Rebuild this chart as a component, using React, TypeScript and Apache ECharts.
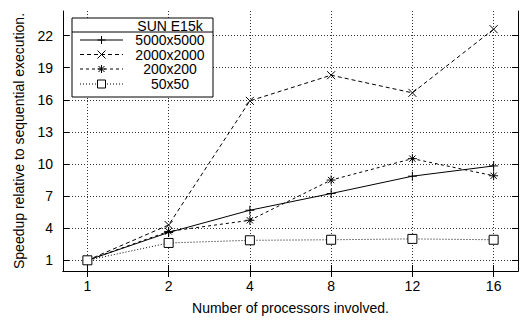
import React, { useEffect, useRef } from "react";
import * as echarts from "echarts";

const categories = ["1", "2", "4", "8", "12", "16"];
const s5000 = [1, 3.6, 5.68, 7.24, 8.86, 9.82];
const s2000 = [1, 4.3, 15.9, 18.3, 16.65, 22.6];
const s200 = [1, 3.7, 4.74, 8.5, 10.5, 8.9];
const s50 = [1, 2.62, 2.87, 2.92, 3.0, 2.92];
const yTicks = [1, 4, 7, 10, 13, 16, 19, 22];
const seriesNames = ["5000x5000", "2000x2000", "200x200", "50x50"];
const legendTitle = "SUN E15k";

const FONT = "'Liberation Sans', Arial, Helvetica, sans-serif";
const xTicks = categories.map((_, i) => i + 1);

const PLUS = "path://M0,5L10,5M5,0L5,10";
const CROSS = "path://M0,0L10,10M10,0L0,10";
const STAR = "path://M0,5L10,5M5,0L5,10M1.5,1.5L8.5,8.5M8.5,1.5L1.5,8.5";
const SQUARE = "path://M0,0L10,0L10,10L0,10Z";

export default function App() {
  const ref = useRef<HTMLDivElement>(null);
  useEffect(() => {
    if (!ref.current) return;
    const chart = echarts.init(ref.current, null, { renderer: "svg" });
    const toData = (arr: number[]) => arr.map((v, i) => [i + 1, v]);
    const gridLine = { show: true, lineStyle: { color: "#333", type: [1, 2] as any, width: 1 } };
    const baseX = {
      type: "value" as const,
      min: 0.7,
      max: 6.3,
      axisLine: { show: true, lineStyle: { color: "#000", width: 1 } },
    };
    const baseY = {
      type: "value" as const,
      min: 0,
      max: 24.3,
      axisLine: { show: true, lineStyle: { color: "#000", width: 1 } },
    };
    const lx1 = 80, lx2 = 123, lmx = 101.5, ltx = 170;
    const rowsY = [40, 54.5, 69, 84];
    const Z = 100;
    const stroke = { stroke: "#000", lineWidth: 1 };
    const ln = (x1: number, y1: number, x2: number, y2: number, extra: any = {}) => ({
      type: "line",
      z: Z + 2,
      shape: { x1, y1, x2, y2 },
      style: { ...stroke, ...extra },
    });
    const markerEls = (kind: number, cx: number, cy: number): any[] => {
      const r = 4;
      if (kind === 0) return [ln(cx - r, cy, cx + r, cy), ln(cx, cy - r, cx, cy + r)];
      if (kind === 1) return [ln(cx - r, cy - r, cx + r, cy + r), ln(cx + r, cy - r, cx - r, cy + r)];
      if (kind === 2)
        return [
          ln(cx - r, cy, cx + r, cy),
          ln(cx, cy - r, cx, cy + r),
          ln(cx - 3, cy - 3, cx + 3, cy + 3),
          ln(cx + 3, cy - 3, cx - 3, cy + 3),
        ];
      return [
        { type: "rect", z: Z + 3, shape: { x: cx - 4, y: cy - 4, width: 8, height: 8 }, style: { ...stroke, fill: "#fff" } },
      ];
    };
    const dashes: any[] = [null, [4, 3], [3, 3], [1, 2]];
    const legendEls: any[] = [
      { type: "rect", z: Z, shape: { x: 72, y: 18, width: 141, height: 79 }, style: { fill: "#fff", stroke: "#000", lineWidth: 1 } },
      ln(72, 32, 213, 32),
      {
        type: "text",
        z: Z + 2,
        style: { text: legendTitle, x: ltx, y: 25.5, align: "center", verticalAlign: "middle", fill: "#000", fontSize: 14, fontFamily: FONT },
      },
    ];
    seriesNames.forEach((n, i) => {
      const y = rowsY[i];
      legendEls.push(ln(lx1, y, lx2, y, dashes[i] ? { lineDash: dashes[i] } : {}));
      legendEls.push(...markerEls(i, lmx, y));
      legendEls.push({
        type: "text",
        z: Z + 2,
        style: { text: n, x: ltx, y, align: "center", verticalAlign: "middle", fill: "#000", fontSize: 14, fontFamily: FONT },
      });
    });

    const mkSeries = (name: string, arr: number[], symbol: string, dash: any, size: number, fill = "#000") => ({
      name,
      type: "line" as const,
      data: toData(arr),
      symbol,
      symbolSize: size,
      showSymbol: true,
      lineStyle: { color: "#000", width: 1, type: dash },
      itemStyle: { color: fill, borderColor: "#000", borderWidth: 1 },
      z: 3,
    });

    chart.setOption({
      animation: false,
      backgroundColor: "#fff",
      textStyle: { fontFamily: FONT },
      grid: { left: 63, right: 3, top: 11, bottom: 49, show: false },
      xAxis: [
        {
          ...baseX,
          position: "bottom",
          name: "Number of processors involved.",
          nameLocation: "middle",
          nameGap: 30,
          nameTextStyle: { color: "#000", fontSize: 14, fontFamily: FONT },
          axisTick: { show: true, inside: true, length: 6, customValues: xTicks, lineStyle: { color: "#000" } },
          axisLabel: {
            customValues: xTicks,
            formatter: (v: number) => categories[Math.round(v) - 1] ?? "",
            color: "#000",
            fontSize: 14,
            margin: 8,
            fontFamily: FONT,
          },
          splitLine: gridLine,
        },
        {
          ...baseX,
          position: "top",
          axisTick: { show: true, inside: true, length: 6, customValues: xTicks, lineStyle: { color: "#000" } },
          axisLabel: { show: false },
          splitLine: { show: false },
        },
      ],
      yAxis: [
        {
          ...baseY,
          position: "left",
          name: "Speedup relative to sequential execution.",
          nameLocation: "middle",
          nameGap: 37,
          nameTextStyle: { color: "#000", fontSize: 14, fontFamily: FONT },
          axisTick: { show: true, inside: true, length: 6, customValues: yTicks, lineStyle: { color: "#000" } },
          axisLabel: { customValues: yTicks, color: "#000", fontSize: 14, margin: 10, fontFamily: FONT },
          splitLine: gridLine,
        },
        {
          ...baseY,
          position: "right",
          axisTick: { show: true, inside: true, length: 6, customValues: yTicks, lineStyle: { color: "#000" } },
          axisLabel: { show: false },
          splitLine: { show: false },
        },
      ],
      series: [
        mkSeries(seriesNames[0], s5000, PLUS, "solid", 9),
        mkSeries(seriesNames[1], s2000, CROSS, [4, 3], 8),
        mkSeries(seriesNames[2], s200, STAR, [3, 3], 9),
        mkSeries(seriesNames[3], s50, SQUARE, [1, 2], 9, "#fff"),
      ],
      graphic: legendEls,
    });
    return () => chart.dispose();
  }, []);
  return <div ref={ref} style={{ position: "fixed", left: 0, top: 0, width: 521, height: 320 }} />;
}
